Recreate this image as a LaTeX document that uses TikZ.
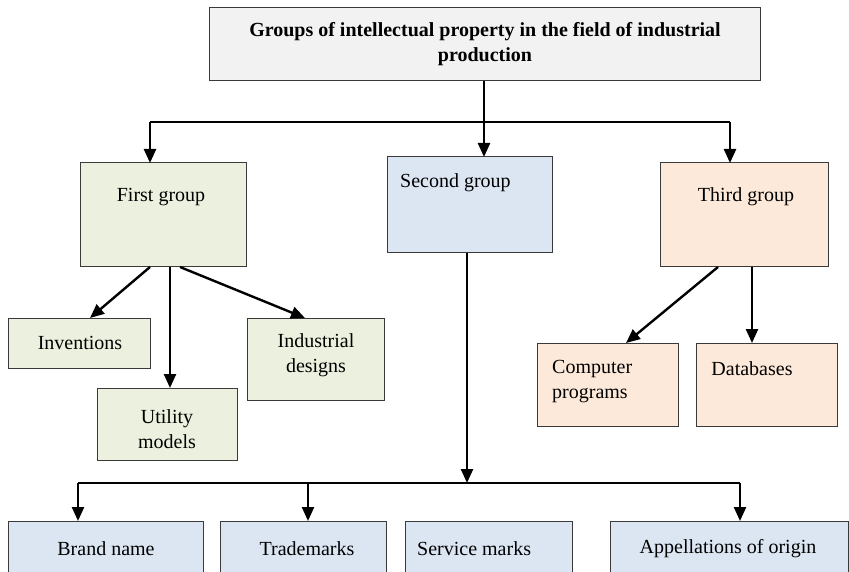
\documentclass[tikz,border=0pt]{standalone}
\usepackage{fontspec}
\setmainfont{Liberation Serif}
\usetikzlibrary{arrows.meta,calc}
\definecolor{greyfill}{HTML}{F2F2F2}
\definecolor{greenfill}{HTML}{EBF1DE}
\definecolor{bluefill}{HTML}{DCE6F2}
\definecolor{orangefill}{HTML}{FDE9D9}
\definecolor{edge}{HTML}{3A3A3A}
\begin{document}
\begin{tikzpicture}[x=1pt,y=-1pt,
  box/.style={draw=edge,line width=1pt,inner sep=0pt,outer sep=0pt,anchor=north west},
  txt/.style={font=\fontsize{20}{25}\selectfont,inner sep=0pt,align=center},
  conn/.style={line width=2.4pt,black},
  arr/.style={conn,-{Triangle[length=14pt,width=12pt]}}]
\useasboundingbox (0,0) rectangle (849,572);
% top box
\node[box,fill=greyfill,minimum width=551pt,minimum height=73pt] (top) at (209,8) {};
\node[txt,font=\bfseries\fontsize{20}{25}\selectfont] (toptxt) at (485,44) {Groups of intellectual property in the field of industrial\\production};
% groups
\node[box,fill=greenfill,minimum width=166pt,minimum height=104pt] (fg) at (80,163) {};
\node[txt] (fgtxt) at (161,197) {First group};
\node[box,fill=bluefill,minimum width=165pt,minimum height=96pt] (sg) at (387,157) {};
\node[txt,anchor=west] (sgtxt) at (400,183) {Second group};
\node[box,fill=orangefill,minimum width=168pt,minimum height=104pt] (tg) at (660,163) {};
\node[txt] (tgtxt) at (746,197) {Third group};
% first group children
\node[box,fill=greenfill,minimum width=142pt,minimum height=50pt] (inv) at (8,318) {};
\node[txt] (invtxt) at (80,343) {Inventions};
\node[box,fill=greenfill,minimum width=140pt,minimum height=72pt] (util) at (97,388) {};
\node[txt] (utiltxt) at (167,429) {Utility\\models};
\node[box,fill=greenfill,minimum width=137pt,minimum height=82pt] (ind) at (247,318) {};
\node[txt] (indtxt) at (316,355) {Industrial\\designs};
% third group children
\node[box,fill=orangefill,minimum width=141pt,minimum height=83pt] (comp) at (537,343) {};
\node[txt,align=left,anchor=west] (comptxt) at (552,382) {Computer\\programs};
\node[box,fill=orangefill,minimum width=141pt,minimum height=83pt] (db) at (696,343) {};
\node[txt] (dbtxt) at (752,369) {Databases};
% bottom row
\node[box,fill=bluefill,minimum width=195pt,minimum height=70pt] (brand) at (8,521) {};
\node[txt] (brandtxt) at (106,549) {Brand name};
\node[box,fill=bluefill,minimum width=166pt,minimum height=70pt] (tm) at (220,521) {};
\node[txt] (tmtxt) at (307,549) {Trademarks};
\node[box,fill=bluefill,minimum width=167pt,minimum height=70pt] (sm) at (405,521) {};
\node[txt,anchor=west] (smtxt) at (417,549) {Service marks};
\node[box,fill=bluefill,minimum width=238pt,minimum height=70pt] (ao) at (610,521) {};
\node[txt] (aotxt) at (728,549) {Appellations of origin};
% connectors from top
\coordinate (hl) at (150,122);
\coordinate (hr) at (730,122);
\coordinate (ts) at (484,81);
\draw[conn] (hl) -- (hr);
\draw[arr] (ts) -- (ts |- sg.north);
\draw[arr] (hl) -- (hl |- fg.north);
\draw[arr] (hr) -- (hr |- tg.north);
% first group arrows
\coordinate (f1) at (150,267);
\coordinate (f2) at (170,267);
\coordinate (f3) at (180,267);
\coordinate (invtop) at (90,318);
\coordinate (indtop) at (305,318);
\draw[arr] (f1) -- (invtop);
\draw[arr] (f2) -- (f2 |- util.north);
\draw[arr] (f3) -- (indtop);
% third group arrows
\coordinate (t1) at (718,267);
\coordinate (t2) at (752,267);
\coordinate (comptop) at (626,343);
\draw[arr] (t1) -- (comptop);
\draw[arr] (t2) -- (t2 |- db.north);
% second group down
\coordinate (s1) at (467,253);
\coordinate (bl) at (78,483);
\coordinate (bm) at (308,483);
\coordinate (br) at (740,483);
\draw[conn] (bl) -- (br);
\draw[arr] (s1) -- (s1 |- bl);
\draw[arr] (bl) -- (bl |- brand.north);
\draw[arr] (bm) -- (bm |- tm.north);
\draw[arr] (br) -- (br |- ao.north);
\end{tikzpicture}
\end{document}
